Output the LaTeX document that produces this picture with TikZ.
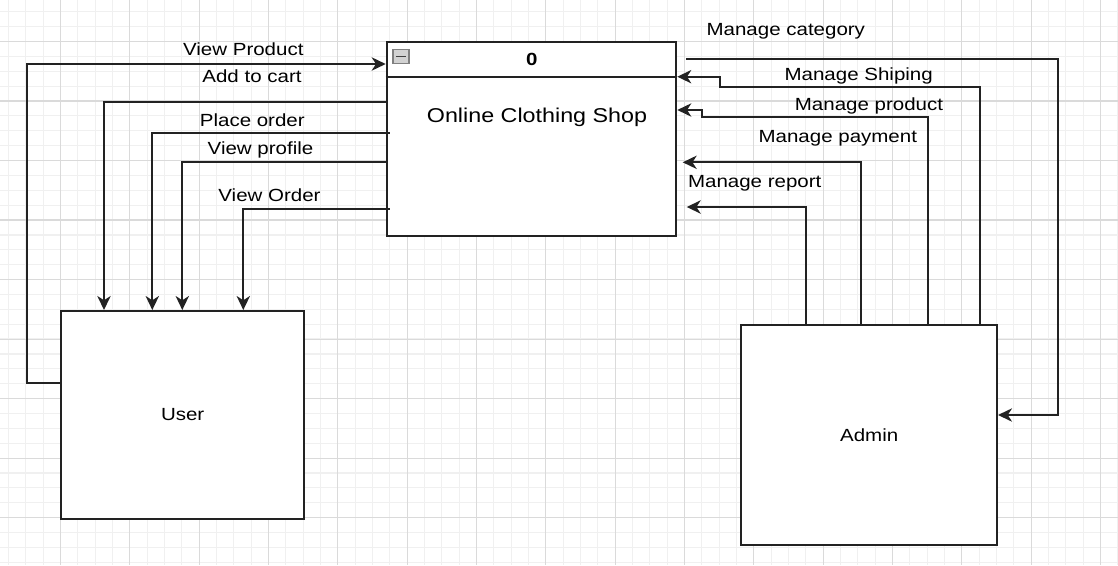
\documentclass[tikz,border=0pt]{standalone}
\usepackage{fontspec}
\setmainfont{Liberation Sans}
\usepackage{graphicx}
\usetikzlibrary{arrows.meta,calc}
\newcommand{\hs}[1]{\scalebox{1.165}[1]{#1}}
\definecolor{gmajor}{HTML}{DADADA}
\definecolor{gminor}{HTML}{F0F0F0}
\definecolor{edgec}{HTML}{222222}
\begin{document}
\begin{tikzpicture}[x=0.75pt,y=-0.75pt,
  box/.style={draw=edgec, line width=1.5pt, fill=white, inner sep=0pt, font=\fontsize{13.2}{15}\selectfont},
  lbl/.style={font=\fontsize{13.2}{15}\selectfont, inner sep=0pt},
  flow/.style={draw=edgec, line width=1.4pt},
  arr/.style={flow, -{Stealth[length=10.5pt,width=10pt,inset=3.2pt]}}]
\useasboundingbox (0,0) rectangle (1118,565);
\fill[white] (0,0) rectangle (1118,565);
% grid
\foreach \k in {0,...,64} {
  \pgfmathsetmacro\xx{8.5+17.333*\k}
  \draw[gminor, line width=0.9pt] (\xx,0) -- (\xx,565);
}
\foreach \k in {0,...,37} {
  \pgfmathsetmacro\yy{11.7+14.88*\k}
  \draw[gminor, line width=0.9pt] (0,\yy) -- (1118,\yy);
}
\foreach \k in {0,...,15} {
  \pgfmathsetmacro\xx{60.5+69.333*\k}
  \draw[gmajor, line width=0.9pt] (\xx,0) -- (\xx,565);
}
\foreach \k in {0,...,8} {
  \pgfmathsetmacro\yy{41.5+59.52*\k}
  \draw[gmajor, line width=0.9pt] (0,\yy) -- (1118,\yy);
}
% boxes
\node[box, minimum width=217.2pt, minimum height=145.3pt] (shop) at (531.5,139.15) {};
\draw[edgec, line width=1.5pt] (shop.west |- 0,77) -- (shop.east |- 0,77);
\node[draw=gray, fill=gray!35, line width=0.8pt, minimum width=12pt, minimum height=10pt, inner sep=0pt] (icon) at (401,56.5) {};
\draw[black!75, line width=1.2pt] ($(icon.west)+(2.5pt,0)$) -- ($(icon.east)+(-2.5pt,0)$);
\node[font=\bfseries\fontsize{13.2}{15}\selectfont, inner sep=0pt] (pid) at (531.7,59) {\hs{0}};
\node[font=\fontsize{15}{18}\selectfont, inner sep=0pt] (ptitle) at (537,117) {\hs{Online Clothing Shop}};
\node[box, minimum width=182pt, minimum height=156pt] (user) at (182.65,415) {\hs{User}};
\node[box, minimum width=191.8pt, minimum height=164.8pt] (admin) at (869.15,435.15) {\hs{Admin}};
% user flows
\draw[arr] (user.west |- 0,383.3) -| (26.7,64) -- (shop.west |- 0,64);
\draw[arr] (shop.west |- 0,101.7) -| (user.north -| 104,0);
\draw[arr] ($(shop.west |- 0,132.7)+(4,0)$) -| (user.north -| 152.3,0);
\draw[arr] (shop.west |- 0,162.3) -| (user.north -| 182.3,0);
\draw[arr] ($(shop.west |- 0,208.7)+(4,0)$) -| (user.north -| 243.3,0);
\node[lbl] (l1) at (243.3,49) {\hs{View Product}};
\node[lbl] (l2) at (252,76) {\hs{Add to cart}};
\node[lbl] (l3) at (252.3,120.7) {\hs{Place order}};
\node[lbl] (l4) at (260.5,150) {\hs{View profile}};
\node[lbl] (l5) at (269.5,195) {\hs{View Order}};
% admin flows
\draw[arr] ($(shop.east |- 0,58.7)+(8.7,0)$) -| (1057.7,415) -- (admin.east |- 0,415);
\draw[arr] (admin.north -| 979.7,0) |- (720,87.3) |- (shop.east |- 0,76.7);
\draw[arr] (admin.north -| 927.7,0) |- (702.3,117.3) |- (shop.east |- 0,110);
\draw[arr] (admin.north -| 860.7,0) |- ($(shop.east |- 0,162.3)+(5.4,0)$);
\draw[arr] (admin.north -| 806,0) |- ($(shop.east |- 0,207)+(9.4,0)$);
\node[lbl] (m1) at (785.8,31.7) {\hs{Manage category}};
\node[lbl] (m2) at (858.7,76) {\hs{Manage Shiping}};
\node[lbl] (m3) at (869,106) {\hs{Manage product}};
\node[lbl] (m4) at (837.8,138.3) {\hs{Manage payment}};
\node[lbl] (m5) at (754.7,183.3) {\hs{Manage report}};
\end{tikzpicture}
\end{document}
